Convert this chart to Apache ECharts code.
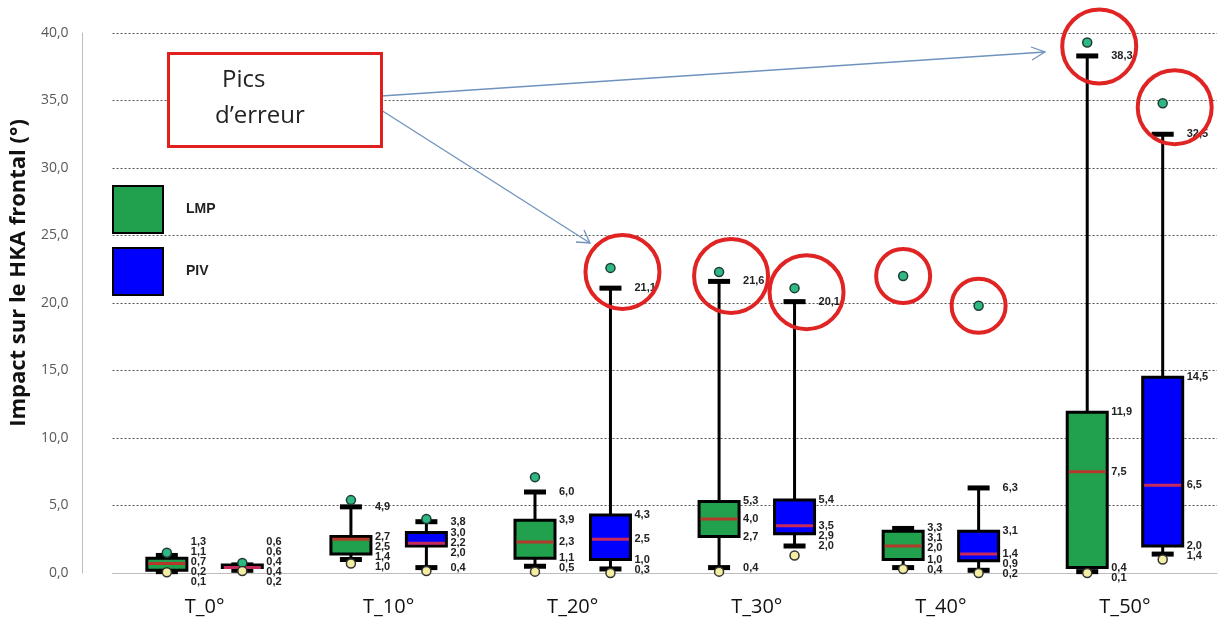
<!DOCTYPE html>
<html>
<head>
<meta charset="UTF-8">
<title>Impact sur le HKA frontal</title>
<script src="https://cdn.jsdelivr.net/npm/echarts@6/dist/echarts.min.js"></script>
<style>
	html, body { margin: 0; padding: 0; background: #fff; }
	#main { width: 1231px; height: 618px; }
</style>
</head>
<body>
<div id="main"></div>
<script>
var categories = ['T_0°', 'T_10°', 'T_20°', 'T_30°', 'T_40°', 'T_50°'];

// LMP : moustache basse, Q1, médiane, Q3, moustache haute, point max, point min
var lmpLow = [0.1, 1.0, 0.5, 0.4, 0.4, 0.1];
var lmpQ1 = [0.2, 1.4, 1.1, 2.7, 1.0, 0.4];
var lmpMed = [0.7, 2.5, 2.3, 4.0, 2.0, 7.5];
var lmpQ3 = [1.1, 2.7, 3.9, 5.3, 3.1, 11.9];
var lmpHigh = [1.3, 4.9, 6.0, 21.6, 3.3, 38.3];
var lmpMaxPt = [1.5, 5.4, 7.1, 22.3, 22.0, 39.3];
var lmpMinPt = [0.05, 0.7, 0.1, 0.1, 0.3, 0.0];
var lmpPeak = [0, 0, 0, 1, 1, 1];

// PIV
var pivLow = [0.2, 0.4, 0.3, 2.0, 0.2, 1.4];
var pivQ1 = [0.4, 2.0, 1.0, 2.9, 0.9, 2.0];
var pivMed = [0.4, 2.2, 2.5, 3.5, 1.4, 6.5];
var pivQ3 = [0.6, 3.0, 4.3, 5.4, 3.1, 14.5];
var pivHigh = [0.6, 3.8, 21.1, 20.1, 6.3, 32.5];
var pivMaxPt = [0.75, 4.0, 22.6, 21.1, 19.8, 34.8];
var pivMinPt = [0.15, 0.15, 0.0, 1.3, 0.0, 1.0];
var pivPeak = [0, 0, 1, 1, 1, 1];

function rows(low, q1, med, q3, high, maxPt, minPt, peak) {
	var out = [];
	for (var i = 0; i < categories.length; i++) {
		out.push([i, low[i], q1[i], med[i], q3[i], high[i], maxPt[i], minPt[i], peak[i]]);
	}
	return out;
}

function fmt(v) {
	return v.toFixed(1).replace('.', ',');
}

var boxColors = ['#21a04e', '#0000ff'];
var medColors = ['#b5392b', '#c82a5c'];
var labelFont = 'bold 11px "Liberation Sans", Arial, sans-serif';

function renderBox(params, api) {
	var i = api.value(0);
	var side = params.seriesIndex === 0 ? -1 : 1;
	var band = api.size([1, 0])[0];
	var cx = api.coord([i, 0])[0] + side * band * 0.205;
	var y = function (v) { return api.coord([i, v])[1]; };
	var lo = api.value(1), q1 = api.value(2), med = api.value(3),
		q3 = api.value(4), hi = api.value(5), maxPt = api.value(6),
		minPt = api.value(7), peak = api.value(8);
	var hw = 20, cw = 11;
	var kids = [];

	// moustaches
	kids.push({ type: 'line', shape: { x1: cx, y1: y(hi), x2: cx, y2: y(q3) }, style: { stroke: '#000', lineWidth: 3 } });
	kids.push({ type: 'line', shape: { x1: cx, y1: y(q1), x2: cx, y2: y(lo) }, style: { stroke: '#000', lineWidth: 3 } });
	kids.push({ type: 'rect', shape: { x: cx - cw, y: y(hi) - 2.5, width: cw * 2, height: 5 }, style: { fill: '#000' } });
	kids.push({ type: 'rect', shape: { x: cx - cw, y: y(lo) - 2.5, width: cw * 2, height: 5 }, style: { fill: '#000' } });

	// boîte
	kids.push({
		type: 'rect',
		shape: { x: cx - hw, y: y(q3), width: hw * 2, height: y(q1) - y(q3) },
		style: { fill: boxColors[params.seriesIndex], stroke: '#000', lineWidth: 3 }
	});
	kids.push({ type: 'line', shape: { x1: cx - hw + 1.5, y1: y(med), x2: cx + hw - 1.5, y2: y(med) }, style: { stroke: medColors[params.seriesIndex], lineWidth: 3 } });

	// points extrêmes
	kids.push({ type: 'circle', shape: { cx: cx, cy: y(maxPt), r: 4.5 }, style: { fill: '#2fb982', stroke: '#1f3b34', lineWidth: 1.5 } });
	kids.push({ type: 'circle', shape: { cx: cx, cy: y(minPt), r: 4.5 }, style: { fill: '#f3eea2', stroke: '#333', lineWidth: 1.5 } });

	// étiquettes
	var vals = [hi, q3, med, q1, lo];
	var ly = vals.map(y);
	var gap = 10;
	for (var k = 1; k < ly.length; k++) {
		if (ly[k] - ly[k - 1] < gap) ly[k] = ly[k - 1] + gap;
	}
	var limit = y(0) + 9;
	if (ly[4] > limit) {
		ly[4] = limit;
		for (k = 3; k >= 0; k--) {
			if (ly[k + 1] - ly[k] < gap) ly[k] = ly[k + 1] - gap;
		}
	}
	for (k = 0; k < vals.length; k++) {
		kids.push({
			type: 'text',
			style: { x: cx + 24, y: ly[k], text: fmt(vals[k]), font: labelFont, fill: '#222', verticalAlign: 'middle' }
		});
	}

	// pics d'erreur entourés
	if (peak) {
		var near = maxPt - hi < 3;
		kids.push({
			type: 'circle',
			shape: near ? { cx: cx + 12, cy: y(maxPt) + 4, r: 37 } : { cx: cx, cy: y(maxPt), r: 27 },
			style: { fill: 'none', stroke: '#e02424', lineWidth: 4 }
		});
	}
	return { type: 'group', children: kids };
}

var myChart = echarts.init(document.getElementById('main'));

var option = {
	animation: false,
	backgroundColor: '#fff',
	grid: { left: 112, right: 14, top: 33, bottom: 45 },
	legend: {
		orient: 'vertical',
		left: 107,
		top: 180,
		icon: 'rect',
		itemWidth: 50,
		itemHeight: 47,
		itemGap: 13,
		data: [
			{ name: 'LMP', itemStyle: { borderColor: '#000', borderWidth: 2 } },
			{ name: 'PIV', itemStyle: { borderColor: '#000', borderWidth: 2 } }
		],
		textStyle: { fontSize: 14, fontWeight: 'bold', color: '#222', padding: [0, 0, 0, 18], fontFamily: 'Liberation Sans, Arial' }
	},
	xAxis: {
		type: 'category',
		data: categories,
		axisLine: { lineStyle: { color: '#bdbdbd' } },
		axisTick: { lineStyle: { color: '#bdbdbd' }, length: 7 },
		axisLabel: { fontSize: 20, color: '#111', margin: 24, fontFamily: 'Open Sans, Liberation Sans, Arial' }
	},
	yAxis: {
		type: 'value',
		min: 0,
		max: 40,
		interval: 5,
		offset: 30,
		name: 'Impact sur le HKA frontal (°)',
		nameLocation: 'middle',
		nameGap: 30,
		nameTextStyle: { fontSize: 22, fontWeight: 'bold', color: '#111', padding: [0, 0, 0, 60], fontFamily: 'Open Sans, Liberation Sans, Arial' },
		axisLine: { show: true, lineStyle: { color: '#bdbdbd' } },
		axisTick: { show: false },
		axisLabel: {
			fontSize: 14, color: '#595959', margin: 14, fontFamily: 'Open Sans, Liberation Sans, Arial',
			formatter: function (v) { return fmt(v); }
		},
		splitLine: { lineStyle: { color: '#555', width: 1, type: [2, 2] } }
	},
	graphic: [
		{ type: 'rect', left: 167, top: 52, shape: { width: 213, height: 93 }, style: { fill: '#fff', stroke: '#e0201c', lineWidth: 3 }, z: 50 },
		{ type: 'text', left: 222, top: 68, style: { text: 'Pics', font: '24px "Open Sans", "Liberation Sans", Arial', fill: '#222' }, z: 51 },
		{ type: 'text', left: 215, top: 104, style: { text: 'd\u2019erreur', font: '24px "Open Sans", "Liberation Sans", Arial', fill: '#222' }, z: 51 },
		{ type: 'line', shape: { x1: 381, y1: 96, x2: 1045, y2: 52 }, style: { stroke: '#6f93bd', lineWidth: 1.3 }, z: 49 },
		{ type: 'polyline', shape: { points: [[1031, 47], [1045, 52], [1032, 60]] }, style: { stroke: '#6f93bd', lineWidth: 1.3, fill: 'none' }, z: 49 },
		{ type: 'line', shape: { x1: 381, y1: 110, x2: 590, y2: 243 }, style: { stroke: '#6f93bd', lineWidth: 1.3 }, z: 49 },
		{ type: 'polyline', shape: { points: [[576, 242], [590, 243], [584, 230]] }, style: { stroke: '#6f93bd', lineWidth: 1.3, fill: 'none' }, z: 49 }
	],
	series: [
		{
			name: 'LMP',
			type: 'custom',
			renderItem: renderBox,
			itemStyle: { color: boxColors[0] },
			encode: { x: 0, y: [1, 2, 3, 4, 5, 6, 7] },
			data: rows(lmpLow, lmpQ1, lmpMed, lmpQ3, lmpHigh, lmpMaxPt, lmpMinPt, lmpPeak),
			z: 10
		},
		{
			name: 'PIV',
			type: 'custom',
			renderItem: renderBox,
			itemStyle: { color: boxColors[1] },
			encode: { x: 0, y: [1, 2, 3, 4, 5, 6, 7] },
			data: rows(pivLow, pivQ1, pivMed, pivQ3, pivHigh, pivMaxPt, pivMinPt, pivPeak),
			z: 10
		}
	]
};

myChart.setOption(option);
</script>
</body>
</html>
